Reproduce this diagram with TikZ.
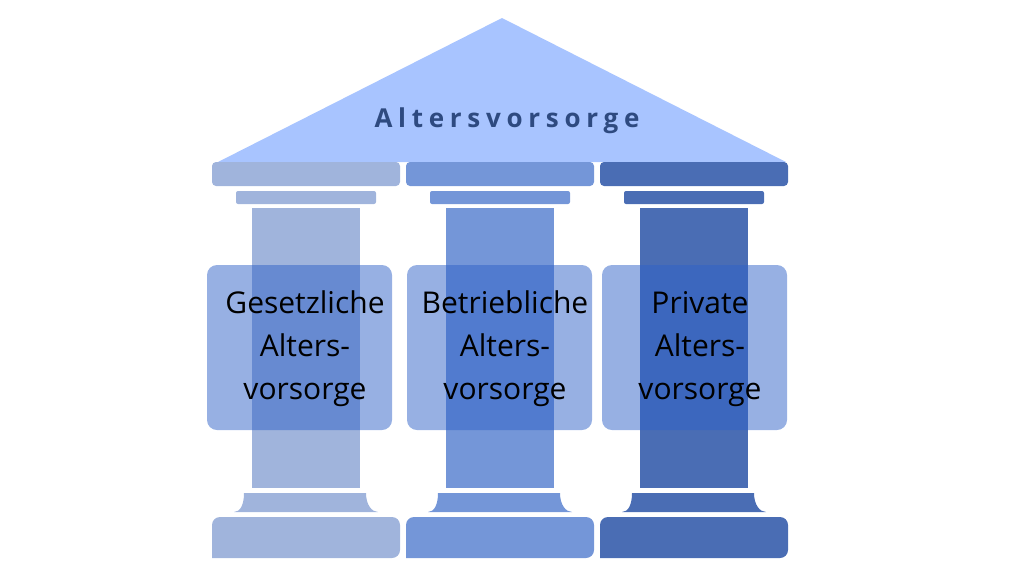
\documentclass[tikz,border=0pt]{standalone}
\usepackage{fontspec}
\setmainfont{Open Sans}
\begin{document}
\begin{tikzpicture}[x=1pt,y=-1pt]
        \definecolor{roofblue}{HTML}{A8C4FF}
        \definecolor{pillarA}{HTML}{A0B4DC}
        \definecolor{pillarB}{HTML}{7496D8}
        \definecolor{pillarC}{HTML}{4A6DB4}
        \definecolor{boxblue}{HTML}{2F62C8}
        \definecolor{titleblue}{HTML}{2E4A80}
        \tikzset{
            plate/.style={rounded corners=4pt},
            label box/.style={fill=boxblue, fill opacity=0.5, rounded corners=10pt},
        }
        \useasboundingbox (0,0) rectangle (1024,576);

        % roof
        \node (title) at (507,121) {};
        \fill[roofblue] (502,18) -- (786,162) -- (218,162) -- cycle;
        \node at (title) {\fontsize{26}{30}\selectfont\bfseries\addfontfeature{LetterSpace=22}\color{titleblue}Altersvorsorge};

        % pillars
        \foreach \x/\bx/\col/\name/\txt in {212/-5/pillarA/ges/{Gesetzliche\\Alters-\\vorsorge},
                                        406/1/pillarB/bet/{Betriebliche\\Alters-\\vorsorge},
                                        600/2/pillarC/pri/{Private\\Alters-\\vorsorge}} {
            \begin{scope}[xshift=\x]
                \fill[\col, plate] (0,162) rectangle (188,186);
                \fill[\col, rounded corners=2pt] (24,191) rectangle (164,204);
                \fill[\col] (40,208) rectangle (148,488);
                \fill[\col] (32,493) -- (154,493) .. controls (154,505) and (160,512) .. (166,512)
                    -- (22,512) .. controls (28,512) and (32,505) .. (32,493) -- cycle;
                \fill[\col, rounded corners=8pt] (0,558) -- (0,517) -- (188,517) -- (188,558) [sharp corners] -- cycle;
                \fill[label box] (\bx,265) rectangle ++(185,165);
                \node[align=center, font=\fontsize{30}{43}\selectfont] (\name) at (\bx+98,349) {\txt};
            \end{scope}
        }
\end{tikzpicture}
\end{document}
